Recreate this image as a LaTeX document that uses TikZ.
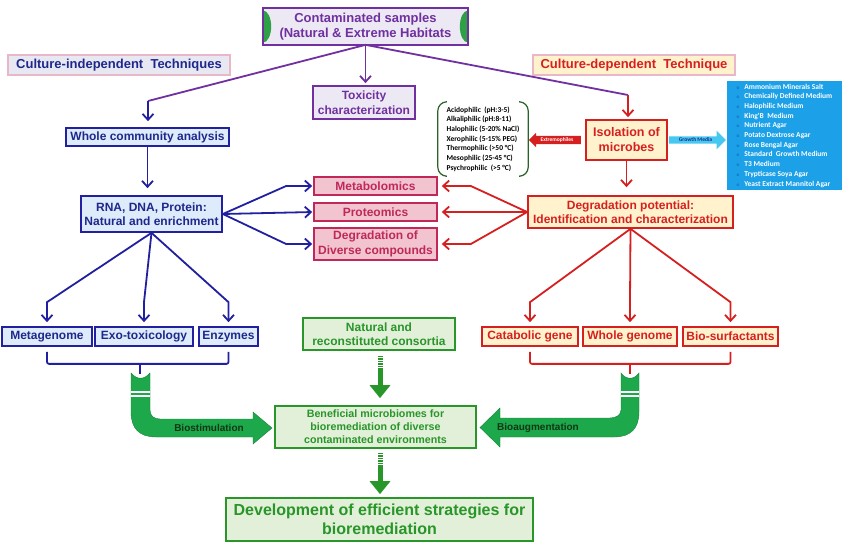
\documentclass[tikz,border=0pt]{standalone}
\usepackage{fontspec}
\setmainfont{Liberation Sans}
\newfontfamily\calibfont{Carlito}
\usepackage{xcolor}
\usetikzlibrary{positioning}
\usetikzlibrary{arrows.meta}
\usetikzlibrary{calc}
\usetikzlibrary{shapes.arrows}

\definecolor{purp}{RGB}{112,48,160}
\definecolor{purpfill}{RGB}{236,232,244}
\definecolor{leaf}{RGB}{46,160,70}
\definecolor{navy}{RGB}{32,32,160}
\definecolor{navytext}{RGB}{30,40,140}
\definecolor{bluefill}{RGB}{222,235,250}
\definecolor{rosebord}{RGB}{232,184,200}
\definecolor{greyfill}{RGB}{232,232,242}
\definecolor{crim}{RGB}{214,32,32}
\definecolor{creme}{RGB}{255,242,204}
\definecolor{pinkfill}{RGB}{242,196,208}
\definecolor{pinkbord}{RGB}{192,40,90}
\definecolor{grn}{RGB}{40,150,40}
\definecolor{grnfill}{RGB}{226,239,217}
\definecolor{pipe}{RGB}{30,168,76}
\definecolor{pipedark}{RGB}{20,130,55}
\definecolor{pipetext}{RGB}{15,55,20}
\definecolor{medblue}{RGB}{28,160,232}
\definecolor{medarrow}{RGB}{70,200,240}
\definecolor{medbul}{RGB}{20,110,190}
\definecolor{extgreen}{RGB}{40,100,40}

\newcommand{\mbul}{\textcolor{medbul}{\fontsize{5}{5}\selectfont o}\hspace{5pt}}

\begin{document}
\begin{tikzpicture}[
  x=1pt, y=-1pt,
  % --- styles ---
  box/.style={draw, line width=1.7pt, align=center, inner sep=1pt},
  purpbox/.style={box, draw=purp, fill=purpfill, text=purp},
  bluebox/.style={box, draw=navy, fill=bluefill, text=navytext},
  redbox/.style={box, draw=crim, fill=creme, text=crim},
  pinkbox/.style={box, draw=pinkbord, fill=pinkfill, text=pinkbord},
  grnbox/.style={box, draw=grn, fill=grnfill, text=grn},
  headbox/.style={box, draw=rosebord, line width=1.2pt},
  txtXL/.style={font=\bfseries\fontsize{16}{19}\selectfont},
  txtL/.style={font=\bfseries\fontsize{13}{15}\selectfont},
  txtM/.style={font=\bfseries\fontsize{12}{14.5}\selectfont},
  txtS/.style={font=\bfseries\fontsize{10.7}{13}\selectfont},
  tinylist/.style={font=\calibfont\bfseries\fontsize{7.5}{9.7}\selectfont, align=left, inner sep=0pt},
  arr/.style={line width=1.8pt, -{Straight Barb[length=6pt,width=11pt]}},
  bluearr/.style={arr, draw=navy},
  redarr/.style={arr, draw=crim},
  purparr/.style={arr, draw=purp},
  purpline/.style={line width=1.8pt, draw=purp},
  stripe/.style={draw=grn, line width=5pt, dash pattern=on 1.2pt off 1.3pt},
  grnarr/.style={draw=grn, line width=5pt, -{Triangle[length=13pt,width=20pt]}},
  pipetxt/.style={font=\bfseries\fontsize{10}{12}\selectfont, text=pipetext}
]
\useasboundingbox[fill=white] (0,0) rectangle (852,555);

% ======================================================
% Top: samples and the two technique headers
% ======================================================
\node[purpbox, draw=none, txtL, minimum width=203pt, minimum height=35pt] (top) at (365.5,26.5) {Contaminated samples\\(Natural \& Extreme Habitats};
\begin{scope}
  \clip (top.south west) rectangle (top.north east);
  \fill[leaf] (top.west) ellipse [x radius=8pt, y radius=16pt];
  \fill[leaf] (top.east) ellipse [x radius=8pt, y radius=16pt];
\end{scope}
\draw[purp, line width=1.7pt] (top.south west) rectangle (top.north east);

\node[headbox, fill=greyfill, text=navytext, txtL, minimum width=222pt, minimum height=20pt] (indep) at (119,65) {Culture-independent\ \ Techniques};
\node[headbox, fill=creme, text=crim, txtL, minimum width=202pt, minimum height=20pt] (dep) at (634,65) {Culture-dependent\ \ Technique};

\node[purpbox, txtM, minimum width=102pt, minimum height=33pt] (tox) at (364,102.5) {Toxicity\\characterization};

\coordinate (lbend) at (148,101);
\coordinate (rbend) at (628,95);

% ======================================================
% Culture-independent branch
% ======================================================
\node[bluebox, txtM, minimum width=163pt, minimum height=18pt] (whole) at (147.5,137) {Whole community analysis};
\node[bluebox, txtM, minimum width=141pt, minimum height=36pt] (rna) at (151.5,214) {RNA, DNA, Protein:\\Natural and enrichment};

\node[bluebox, txtM, minimum width=90pt, minimum height=19pt] (metag) at (47,336.5) {Metagenome};
\node[bluebox, txtM, minimum width=98pt, minimum height=19pt] (exo) at (144,336.5) {Exo-toxicology};
\node[bluebox, txtM, minimum width=59pt, minimum height=19pt] (enz) at (228.5,336.5) {Enzymes};

% ======================================================
% Omics boxes (middle)
% ======================================================
\node[pinkbox, txtM, minimum width=123pt, minimum height=18pt] (meta) at (375.5,186) {Metabolomics};
\node[pinkbox, txtM, minimum width=123pt, minimum height=18pt] (prot) at (375.5,212) {Proteomics};
\node[pinkbox, txtM, minimum width=123pt, minimum height=32pt] (degr) at (375.5,244) {Degradation of\\Diverse compounds};

% ======================================================
% Culture-dependent branch
% ======================================================
\node[redbox, font=\bfseries\fontsize{12.5}{15}\selectfont, minimum width=81pt, minimum height=40pt] (isol) at (626.5,140) {Isolation of\\microbes};
\node[redbox, txtM, minimum width=205pt, minimum height=32pt] (pot) at (630.5,212) {Degradation potential:\\Identification and characterization};

\node[redbox, txtM, minimum width=96pt, minimum height=19pt] (cat) at (530,336.5) {Catabolic gene};
\node[redbox, txtM, minimum width=94pt, minimum height=19pt] (wgen) at (630,336.5) {Whole genome};
\node[redbox, txtM, minimum width=95pt, minimum height=19pt] (bios) at (730.5,336.5) {Bio-surfactants};

% extremophiles and growth media
\node[single arrow, shape border rotate=180, fill=crim, text=white, inner sep=1.5pt,
      single arrow head extend=3pt, minimum height=52pt,
      font=\calibfont\bfseries\fontsize{5.5}{6}\selectfont] (extarr) at (557,140) {Extremophiles};
\node[tinylist, minimum width=90pt, minimum height=74pt] (ext) at (483,139)
{Acidophilic\ \ (pH:3-5)\\Alkaliphilic (pH:8-11)\\Halophilic (5-20\% NaCl)\\Xerophilic (5-15\% PEG)\\Thermophilic (>50 °C)\\Mesophilic (25-45 °C)\\Psychrophilic\ \ (>5 °C)};
\draw[extgreen, line width=1.2pt, rounded corners=9pt] ([xshift=8pt]ext.north west) -- (ext.north west) -- (ext.south west) -- ([xshift=8pt]ext.south west);
\draw[extgreen, line width=1.2pt, rounded corners=9pt] ([xshift=-8pt]ext.north east) -- (ext.north east) -- (ext.south east) -- ([xshift=-8pt]ext.south east);

\node[single arrow, fill=medarrow, text=navytext, inner sep=1.5pt,
      single arrow head extend=5.5pt, minimum height=57pt,
      font=\calibfont\bfseries\fontsize{5.5}{6}\selectfont] (medarr) at (695.5,140) {Growth Media};
\node[tinylist, fill=medblue, text=white, minimum width=115pt, minimum height=109pt] (media) at (784.5,135.5)
{\mbul Ammonium Minerals Salt\\\mbul Chemically Defined Medium\\\mbul Halophilic Medium\\\mbul King'B\ \ Medium\\\mbul Nutrient Agar\\\mbul Potato Dextrose Agar\\\mbul Rose Bengal Agar\\\mbul Standard\ \ Growth Medium\\\mbul T3 Medium\\\mbul Trypticase Soya Agar\\\mbul Yeast Extract Mannitol Agar};

% ======================================================
% Green outcome boxes
% ======================================================
\node[grnbox, txtM, minimum width=152pt, minimum height=32pt] (cons) at (379,334) {Natural and\\reconstituted consortia};
\node[grnbox, txtS, minimum width=201pt, minimum height=42pt] (benef) at (375.5,427) {Beneficial microbiomes for\\bioremediation of diverse\\contaminated environments};
\node[grnbox, txtXL, minimum width=307pt, minimum height=43pt] (dev) at (379.5,519.5) {Development of efficient strategies for\\bioremediation};

% ======================================================
% Connectors from the samples
% ======================================================
\draw[purpline] (top.south) -- (lbend);
\draw[purpline] (top.south) -- (rbend);
\draw[purparr, shorten >=2pt] (top.south) -- (top.south |- tox.north);
\draw[bluearr, shorten >=6pt] (lbend) -- (lbend |- whole.north);
\draw[redarr, shorten >=2pt] (rbend) -- (rbend |- isol.north);

% blue flow
\draw[bluearr, shorten >=7pt] (whole.south) -- (whole.south |- rna.north);
\draw[bluearr, shorten >=1pt] (rna.east) -- ([xshift=-27pt]meta.west) -- (meta.west);
\draw[bluearr, shorten >=1pt] (rna.east) -- (prot.west);
\draw[bluearr, shorten >=1pt] (rna.east) -- ([xshift=-27pt]degr.west) -- (degr.west);
\draw[bluearr, shorten >=4pt] (rna.south) -- ([yshift=24pt]metag.north) -- (metag.north);
\draw[bluearr, shorten >=4pt] (rna.south) -- ([yshift=24pt]exo.north) -- (exo.north);
\draw[bluearr, shorten >=4pt] (rna.south) -- ([yshift=24pt]enz.north) -- (enz.north);

% red flow
\draw[redarr, shorten >=8pt] (isol.south) -- (isol.south |- pot.north);
\draw[redarr, shorten >=4pt] (pot.west) -- ([xshift=33pt]meta.east) -- (meta.east);
\draw[redarr, shorten >=4pt] (pot.west) -- (prot.east);
\draw[redarr, shorten >=4pt] (pot.west) -- ([xshift=33pt]degr.east) -- (degr.east);
\draw[redarr, shorten >=4pt] (pot.south) -- ([yshift=24pt]cat.north) -- (cat.north);
\draw[redarr, shorten >=4pt] (pot.south) -- ([yshift=24pt]wgen.north) -- (wgen.north);
\draw[redarr, shorten >=4pt] (pot.south) -- ([yshift=24pt]bios.north) -- (bios.north);

% ======================================================
% Brackets and bent pipes
% ======================================================
\coordinate (ljoin) at (140,363);
\coordinate (rjoin) at (630,363);
\draw[navy, line width=1.8pt, rounded corners=2pt] ([yshift=-5pt]metag.south) |- ([yshift=-17pt]enz.south) -- ([yshift=-5pt]enz.south);
\draw[crim, line width=1.8pt, rounded corners=2pt] ([yshift=-5pt]cat.south) |- ([yshift=-17pt]bios.south) -- ([yshift=-5pt]bios.south);

\fill[pipe, draw=pipedark, line width=0.4pt] (131,373) -- (131,412) .. controls (131,428) and (139,437) .. (156,437) -- (253,437) -- (253,444)
  -- (272,428) -- (253,412) -- (253,419) -- (160,419) .. controls (154,419) and (150,416) .. (150,410)
  -- (150,373) .. controls (144,380) and (137,380) .. (131,373) -- cycle;
\fill[pipe, draw=pipedark, line width=0.4pt] (639,373) -- (639,412) .. controls (639,428) and (631,437) .. (614,437) -- (500,437) -- (500,447)
  -- (480,427.5) -- (500,408) -- (500,418) -- (610,418) .. controls (616,418) and (621,415) .. (621,410)
  -- (621,373) .. controls (626,380) and (634,380) .. (639,373) -- cycle;
\foreach \yy in {392,396} {
  \draw[white, line width=1.2pt] (131,\yy) -- (150,\yy);
  \draw[white, line width=1.2pt] (621,\yy) -- (639,\yy);
}
\draw[navy, line width=1.8pt] (ljoin) -- ++(0,11);
\draw[crim, line width=1.8pt] (rjoin) -- ++(0,11);

\node[pipetxt] (bstim) at (209,428) {Biostimulation};
\node[pipetxt] (baug) at (538,427.5) {Bioaugmentation};

% ======================================================
% Green arrows (kept on the x of the consortia box)
% ======================================================
\coordinate (gx) at (380,0);
\draw[stripe] ([yshift=-5pt]gx |- cons.south) -- ++(0,12);
\draw[grnarr, shorten >=7pt] ([yshift=-17pt]gx |- cons.south) -- (gx |- benef.north);
\draw[stripe] ([yshift=-4pt]gx |- benef.south) -- ++(0,12);
\draw[grnarr, shorten >=3pt] ([yshift=-16pt]gx |- benef.south) -- (gx |- dev.north);

\end{tikzpicture}
\end{document}
